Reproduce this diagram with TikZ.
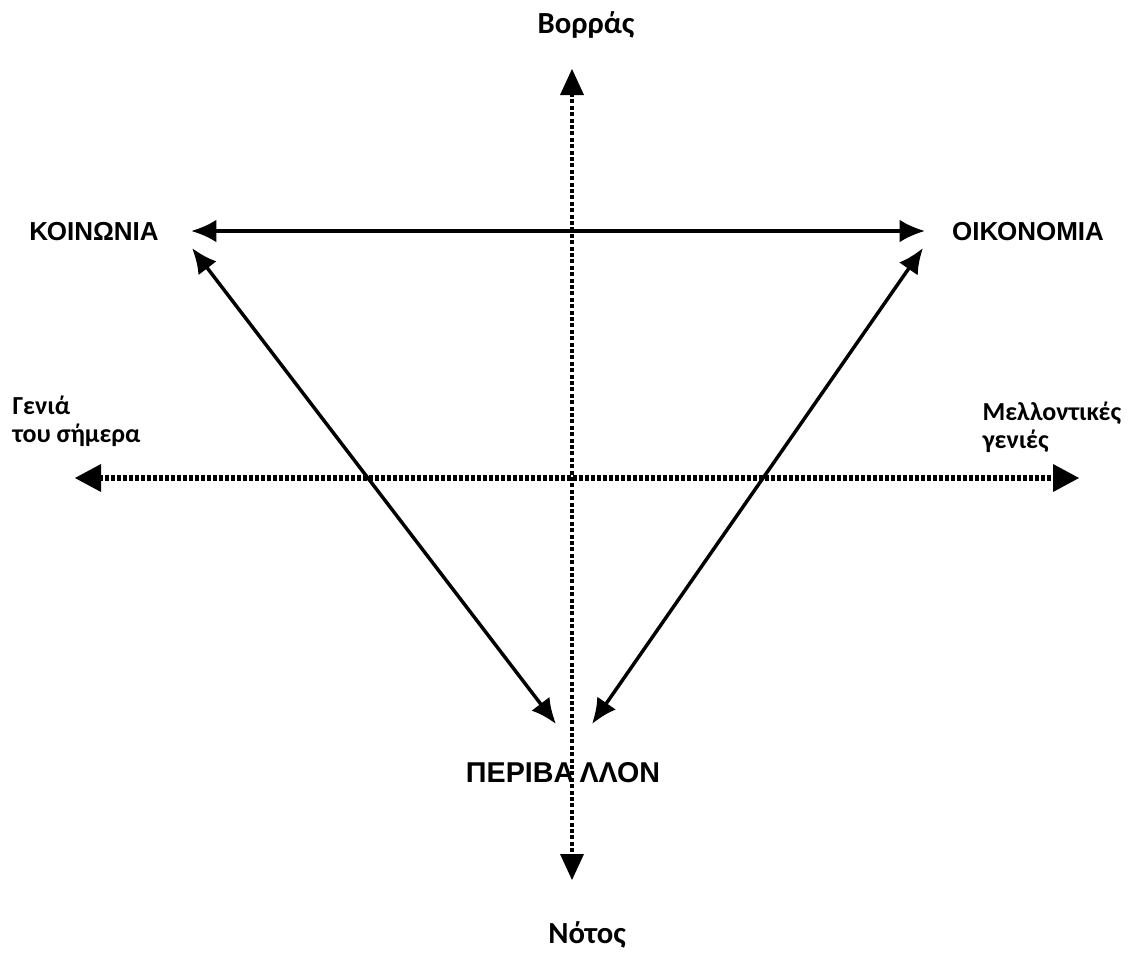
\documentclass[tikz,border=0pt]{standalone}
\usepackage{fontspec}
\setmainfont{Liberation Sans}
\newfontfamily\calfont{Carlito}
\usetikzlibrary{arrows.meta, positioning, calc}

\begin{document}
\begin{tikzpicture}[x=0.75pt,y=-0.75pt,
  thick,
  pillar node/.style={font=\bfseries\fontsize{19.5}{22}\selectfont, inner sep=0pt},
  pole node/.style={font=\calfont\bfseries\fontsize{23}{26}\selectfont, inner sep=0pt},
  gen node/.style={font=\calfont\bfseries\fontsize{19.5}{21}\selectfont, align=left, anchor=west, inner sep=0pt},
  link/.style={{Latex[length=19pt,width=17pt]}-{Latex[length=19pt,width=17pt]}, line width=2.6pt},
  axis/.style={line width=4pt, dash pattern=on 3pt off 1.5pt},
  vaxis/.style={line width=3.2pt, dash pattern=on 3pt off 1.8pt}]
  \useasboundingbox (0,0) rectangle (1132,957);

  % labels
  \node[pole node] (north) at (586,25) {Βορράς};
  \node[pole node] (south) at (587,935) {Νότος};
  \node[pillar node] (soc) at (94,232) {ΚΟΙΝΩΝΙΑ};
  \node[pillar node] (eco) at (1028,232) {ΟΙΚΟΝΟΜΙΑ};
  \node[pillar node, font=\bfseries\fontsize{21.5}{24}\selectfont] (env) at (563,773) {ΠΕΡΙΒΑ\hspace{4pt}ΛΛΟΝ};
  \node[gen node] (now) at (12,421) {Γενιά\\του σήμερα};
  \node[gen node] (future) at (982,427) {Μελλοντικές\\γενιές};

  % arrow ends
  \coordinate (n tip) at (572,69);
  \coordinate (s tip) at (572,880);
  \coordinate (w tip) at (75,478);
  \coordinate (e tip) at (1079,478);
  \coordinate (soc r) at (191,231);
  \coordinate (eco l) at (925,231);
  \coordinate (soc b) at (192,248);
  \coordinate (eco b) at (923,248);
  \coordinate (env l) at (556,724);
  \coordinate (env r) at (592,724);

  % triangle
  \draw[link] (soc r) -- (eco l);
  \draw[link] (soc b) -- (env l);
  \draw[link] (eco b) -- (env r);

  % axes
  \draw[axis] ($(w tip)+(24,0)$) -- ($(e tip)-(24,0)$);
  \draw[vaxis] ($(n tip)+(0,24)$) -- ($(s tip)-(0,24)$);
  \fill (w tip) -- ++(26,-14) -- ++(0,28) -- cycle;
  \fill (e tip) -- ++(-26,-14) -- ++(0,28) -- cycle;
  \fill (n tip) -- ++(-12,26) -- ++(24,0) -- cycle;
  \fill (s tip) -- ++(-12,-26) -- ++(24,0) -- cycle;
\end{tikzpicture}
\end{document}
